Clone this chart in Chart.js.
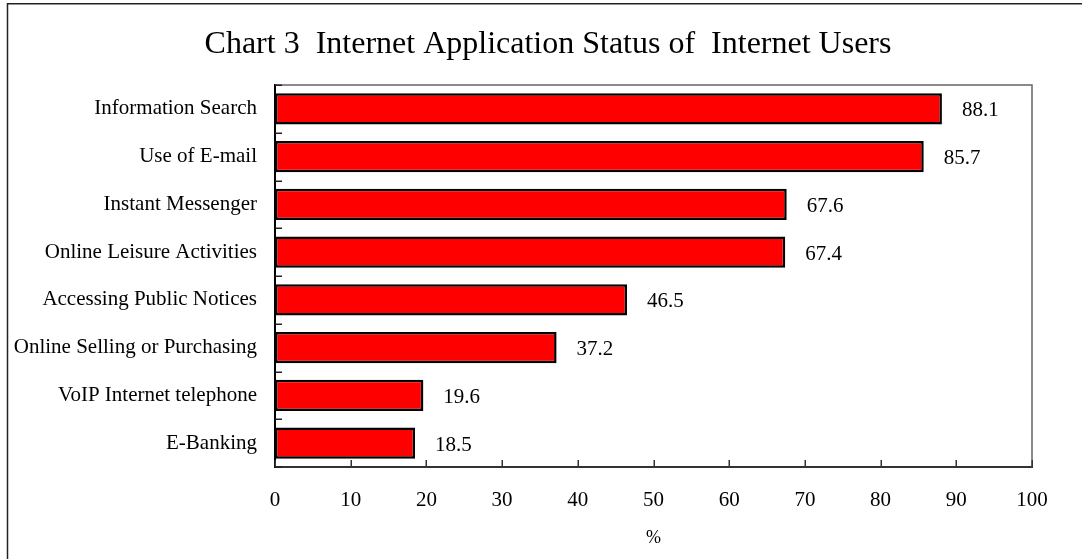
<!DOCTYPE html>
<html>
<head>
<meta charset="utf-8">
<style>
  html, body { margin: 0; padding: 0; background: #fff; }
  canvas { display: block; }
</style>
<script src="https://cdn.jsdelivr.net/npm/chart.js@4/dist/chart.umd.min.js"></script>
</head>
<body>
<canvas id="chart" width="1082" height="559"></canvas>
<script>
// Internet application usage (% of users)
const categories = [
  'Information Search',
  'Use of E-mail',
  'Instant Messenger',
  'Online Leisure Activities',
  'Accessing Public Notices',
  'Online Selling or Purchasing',
  'VoIP Internet telephone',
  'E-Banking'
];
const usageShare = [88.1, 85.7, 67.6, 67.4, 46.5, 37.2, 19.6, 18.5];
const axisMin = 0;
const axisMax = 100;
const axisStep = 10;

const SERIF = '"Liberation Serif", "Times New Roman", serif';

// Title is centred over the page rather than over the whole left margin
const titleCentering = {
  id: 'titleCentering',
  afterLayout(chart) {
    if (chart.titleBlock) chart.titleBlock.left = 64;
  }
};

// Frame, inward tick marks and value labels
const decorations = {
  id: 'decorations',
  afterDatasetsDraw(chart) {
    const ctx = chart.ctx;
    const area = chart.chartArea;
    const xs = chart.scales.x;
    const ys = chart.scales.y;
    ctx.save();

    // outer border
    ctx.strokeStyle = '#222';
    ctx.lineWidth = 1.5;
    ctx.strokeRect(7.5, 3.75, chart.width + 20, chart.height + 20);

    // plot box top and right edges
    ctx.strokeStyle = '#666';
    ctx.lineWidth = 1.5;
    ctx.beginPath();
    ctx.moveTo(area.left, area.top);
    ctx.lineTo(area.right, area.top);
    ctx.lineTo(area.right, area.bottom);
    ctx.stroke();

    // x ticks pointing inward
    ctx.strokeStyle = '#333';
    ctx.lineWidth = 1.5;
    ctx.beginPath();
    xs.ticks.forEach(t => {
      const x = Math.round(xs.getPixelForValue(t.value)) + 0.25;
      ctx.moveTo(x, area.bottom);
      ctx.lineTo(x, area.bottom - 7);
    });
    ctx.stroke();

    // y ticks between categories
    ctx.strokeStyle = '#222';
    ctx.beginPath();
    for (let i = 0; i <= categories.length; i++) {
      const y = Math.round(ys.getPixelForValue(i - 0.5)) + 0.25;
      ctx.moveTo(area.left, y);
      ctx.lineTo(area.left + 7, y);
    }
    ctx.stroke();

    // value labels
    ctx.fillStyle = '#000';
    ctx.font = '21px ' + SERIF;
    ctx.textAlign = 'left';
    ctx.textBaseline = 'middle';
    usageShare.forEach((v, i) => {
      const x = xs.getPixelForValue(v) + 20;
      const y = ys.getPixelForValue(i) + 2;
      ctx.fillText(v.toFixed(1), x, y);
    });

    ctx.restore();
  }
};

new Chart(document.getElementById('chart'), {
  type: 'bar',
  data: {
    labels: categories,
    datasets: [{
      data: usageShare,
      backgroundColor: '#FF0000',
      borderColor: '#000',
      borderWidth: 2.5,
      borderSkipped: false,
      categoryPercentage: 1,
      barPercentage: 0.65
    }]
  },
  options: {
    indexAxis: 'y',
    responsive: false,
    animation: false,
    devicePixelRatio: 1,
    layout: { padding: { left: 7, right: 50, top: 0, bottom: 0 } },
    plugins: {
      legend: { display: false },
      tooltip: { enabled: false },
      title: {
        display: true,
        text: 'Chart 3  Internet Application Status of  Internet Users',
        color: '#000',
        font: { family: SERIF, size: 32, weight: 'normal', lineHeight: 1.2 },
        padding: { top: 25, bottom: 21.6 }
      }
    },
    scales: {
      x: {
        min: axisMin,
        max: axisMax,
        ticks: {
          stepSize: axisStep,
          color: '#000',
          padding: 21,
          font: { family: SERIF, size: 21, lineHeight: 1.2 }
        },
        grid: { display: false, drawTicks: false },
        border: { display: true, color: '#333', width: 2 },
        title: {
          display: true,
          text: '%',
          color: '#000',
          font: { family: SERIF, size: 18, lineHeight: 1.2 },
          padding: { top: 0, bottom: 10 }
        },
        afterFit(scale) { scale.height = 92; }
      },
      y: {
        ticks: {
          color: '#000',
          padding: 18,
          font: { family: SERIF, size: 21, lineHeight: 1.2 }
        },
        grid: { display: false, drawTicks: false },
        border: { display: true, color: '#000', width: 2 },
        afterFit(scale) { scale.width = 268; }
      }
    }
  },
  plugins: [titleCentering, decorations]
});
</script>
</body>
</html>
